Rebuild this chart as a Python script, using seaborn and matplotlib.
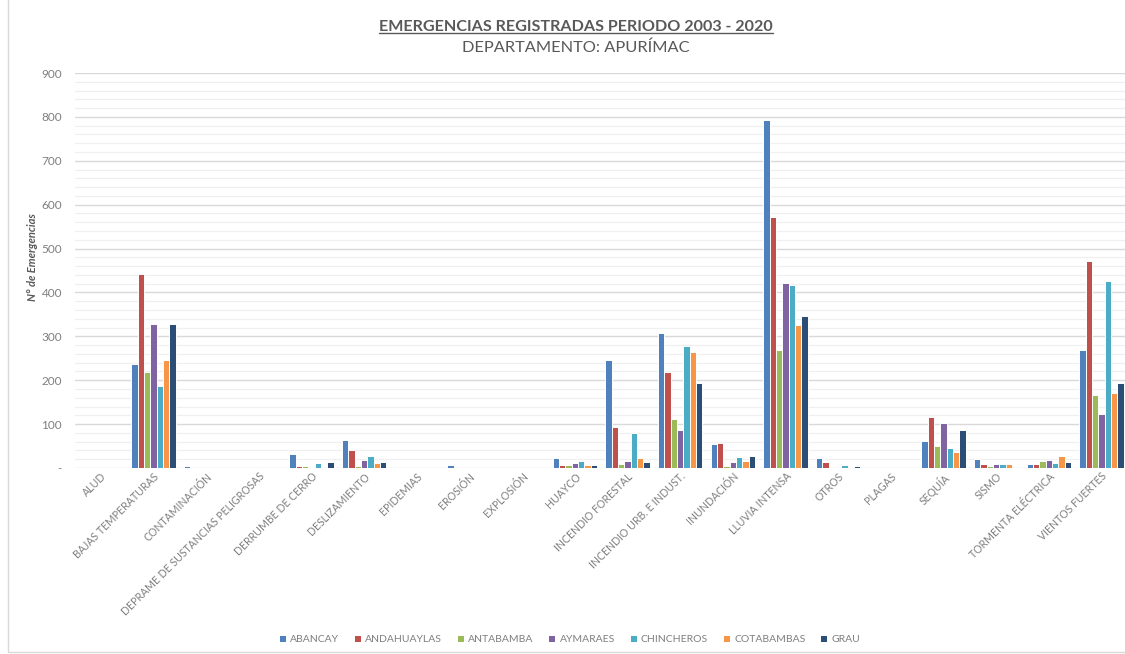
import matplotlib
matplotlib.use("Agg")
import matplotlib.pyplot as plt
from matplotlib.lines import Line2D
from matplotlib.patches import Rectangle
from matplotlib.ticker import MultipleLocator
import seaborn as sns
import pandas as pd

# Tipos de emergencia (eje X)
categorias = [
    "ALUD", "BAJAS TEMPERATURAS", "CONTAMINACIÓN", "DEPRAME DE SUSTANCIAS PELIGROSAS",
    "DERRUMBE DE CERRO", "DESLIZAMIENTO", "EPIDEMIAS", "EROSIÓN", "EXPLOSIÓN",
    "HUAYCO", "INCENDIO FORESTAL", "INCENDIO URB. E INDUST.", "INUNDACIÓN",
    "LLUVIA INTENSA", "OTROS", "PLAGAS", "SEQUÍA", "SISMO", "TORMENTA ELÉCTRICA",
    "VIENTOS FUERTES",
]

# Número de emergencias por provincia, en el orden de las categorías
abancay     = [0, 236, 5, 0, 32, 64, 0, 7, 0, 22, 245, 307, 55, 793, 22, 0, 61, 21, 9, 270]
andahuaylas = [0, 442, 0, 0, 5, 41, 0, 0, 0, 6, 93, 218, 58, 572, 14, 0, 117, 9, 8, 472]
antabamba   = [0, 218, 0, 0, 5, 5, 0, 0, 0, 7, 8, 112, 5, 270, 0, 0, 50, 4, 15, 167]
aymaraes    = [0, 328, 0, 0, 3, 18, 0, 0, 0, 12, 16, 86, 13, 421, 0, 0, 103, 8, 19, 122]
chincheros  = [0, 187, 0, 0, 11, 27, 0, 0, 0, 15, 79, 278, 25, 417, 7, 0, 45, 10, 11, 426]
cotabambas  = [0, 246, 0, 0, 0, 11, 0, 0, 0, 7, 22, 264, 17, 325, 2, 0, 37, 8, 27, 170]
grau        = [0, 328, 0, 0, 14, 14, 0, 0, 0, 7, 14, 194, 27, 346, 4, 0, 87, 0, 14, 193]

provincias = ["ABANCAY", "ANDAHUAYLAS", "ANTABAMBA", "AYMARAES",
              "CHINCHEROS", "COTABAMBAS", "GRAU"]
series = [abancay, andahuaylas, antabamba, aymaraes, chincheros, cotabambas, grau]
colores = ["#4F81BD", "#C0504D", "#9BBB59", "#8064A2", "#4BACC6", "#F79646", "#2C4D75"]

filas = []
for prov, vals in zip(provincias, series):
    for cat, v in zip(categorias, vals):
        filas.append({"categoria": cat, "provincia": prov, "valor": v})
df = pd.DataFrame(filas)

sns.set_style("white")
plt.rcParams["font.family"] = ["Lato", "DejaVu Sans"]

texto_gris = "#7F7F7F"
titulo_gris = "#595959"

fig = plt.figure(figsize=(11.25, 6.54), dpi=100)
ax = fig.add_axes([74.5 / 1125, 1 - 468 / 654, 1053.3 / 1125, (468 - 73) / 654])

sns.barplot(data=df, x="categoria", y="valor", hue="provincia",
            order=categorias, hue_order=provincias, palette=colores,
            saturation=1, width=0.84, edgecolor="white", linewidth=0.7, ax=ax)

ax.set_xlim(-0.5, len(categorias) - 0.5)
ax.set_ylim(0, 900)
ax.yaxis.set_minor_locator(MultipleLocator(20))
ax.grid(axis="y", which="major", color="#D9D9D9", linewidth=1.0)
ax.grid(axis="y", which="minor", color="#F0F0F0", linewidth=0.9)
ax.set_axisbelow(True)
for s in ax.spines.values():
    s.set_visible(False)

ax.set_yticks(range(0, 1000, 100))
ax.set_yticklabels(["-"] + [str(v) for v in range(100, 1000, 100)])
ax.tick_params(axis="y", which="both", length=0, pad=9, labelsize=8.5, labelcolor=texto_gris)
ax.tick_params(axis="x", length=0, pad=2)
ax.set_xticks(range(len(categorias)))
ax.set_xticklabels(categorias, rotation=45, ha="right", rotation_mode="anchor",
                   fontsize=7.6, color=texto_gris)
ax.set_xlabel("")
ax.set_ylabel("")

fig.text(33 / 1125, 1 - 257 / 654, "N° de Emergencias", rotation=90,
         ha="center", va="center", fontsize=8, fontweight="bold",
         fontstyle="italic", color=titulo_gris)

titulo = fig.text(576 / 1125, 1 - 27 / 654, "EMERGENCIAS REGISTRADAS PERIODO 2003 - 2020",
                  ha="center", va="center", fontsize=11.6, fontweight="bold",
                  color=titulo_gris)
fig.text(576 / 1125, 1 - 48 / 654, "DEPARTAMENTO: APURÍMAC",
         ha="center", va="center", fontsize=11.8, color=titulo_gris)

# Leyenda inferior en una sola fila
handles = [Rectangle((0, 0), 1, 1, facecolor=c, edgecolor="none") for c in colores]
ax.legend(handles, provincias, loc="center", bbox_to_anchor=(570 / 1125, 1 - 640 / 654),
          bbox_transform=fig.transFigure, ncol=7, frameon=False, fontsize=7.5,
          handlelength=0.6, handleheight=0.6, handletextpad=0.4, columnspacing=1.5,
          labelcolor=texto_gris)

# Subrayado del título
fig.canvas.draw()
bb = titulo.get_window_extent().transformed(fig.transFigure.inverted())
fig.add_artist(Line2D([bb.x0, bb.x1], [bb.y0 + 0.002, bb.y0 + 0.002],
                      transform=fig.transFigure, color=titulo_gris, linewidth=1.0))

# Marco del área del gráfico
fig.add_artist(Rectangle((8 / 1125, 2 / 654), 1, 1, transform=fig.transFigure,
                         fill=False, edgecolor="#D9D9D9", linewidth=1.0))

fig.savefig("out.png", dpi=100, facecolor="white")
